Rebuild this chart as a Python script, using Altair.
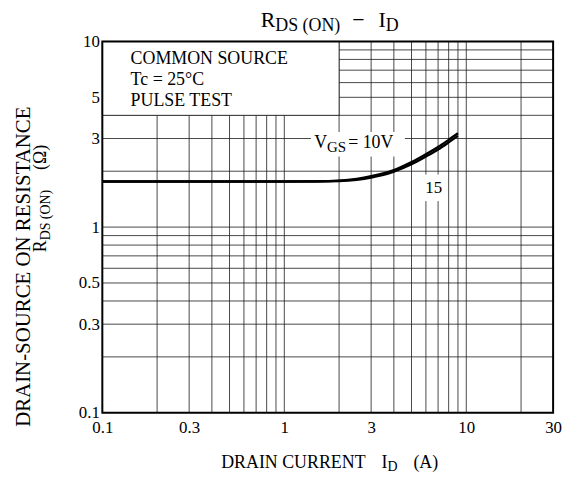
import altair as alt
import pandas as pd

# ---------------- data ----------------
drain_current = [0.1, 0.5, 1.0, 1.5, 2.0, 2.5, 3.0, 4.0, 5.0, 6.0, 7.0, 8.0, 9.0]
rds_vgs10 = [1.76, 1.76, 1.76, 1.765, 1.78, 1.82, 1.88, 2.03, 2.24, 2.47, 2.70, 2.95, 3.20]
rds_vgs15 = [1.76, 1.76, 1.76, 1.76, 1.77, 1.80, 1.85, 1.99, 2.18, 2.40, 2.62, 2.86, 3.10]

x_tick_labels = [0.1, 0.3, 1, 3, 10, 30]
y_tick_labels = [0.1, 0.3, 0.5, 1, 3, 5, 10]
x_grid = [0.2, 0.3, 0.4, 0.5, 0.6, 0.7, 0.8, 0.9, 1, 2, 3, 4, 5, 6, 7, 8, 9, 10, 20]
y_grid = [0.2, 0.3, 0.4, 0.5, 0.6, 0.7, 0.8, 0.9, 1, 2, 3, 4, 5, 6, 7, 8, 9]

condition_lines = ["COMMON SOURCE", "Tc = 25°C", "PULSE TEST"]
condition_y = [7.55, 5.8, 4.5]

FONT = "Liberation Serif"
W, H = 454, 374
NB = "\u00a0"

# approximate Times-like glyph widths (per 1000 em) for laying out rich text
GW = {" ": 250, NB: 250, "(": 333, ")": 333, "-": 333, "−": 564, ".": 250, "=": 564, "°": 400,
      "A": 722, "C": 667, "D": 722, "E": 611, "G": 722, "I": 333, "L": 611, "M": 889,
      "N": 722, "O": 722, "P": 556, "R": 667, "S": 556, "T": 611, "U": 722, "V": 722,
      "Ω": 768, "c": 444}


def tw(s, size):
    return sum(GW.get(ch, 500) for ch in s) / 1000.0 * size


def pw(p):
    # width of a piece: (text, size, shift) or a numeric gap in px
    return p if isinstance(p, (int, float)) else tw(p[0], p[1])


xs = alt.Scale(type="log", domain=[0.1, 30], nice=False)
ys = alt.Scale(type="log", domain=[0.1, 10], nice=False)

xaxis = alt.Axis(values=x_tick_labels, labelExpr="format(datum.value, '~g')", grid=False,
                 ticks=False, domain=False, labelFont=FONT, labelFontSize=17,
                 labelColor="black", labelPadding=7, title=None, labelFlush=False,
                 labelOverlap=False)
yaxis = alt.Axis(values=y_tick_labels, labelExpr="format(datum.value, '~g')", grid=False,
                 ticks=False, domain=False, labelFont=FONT, labelFontSize=17,
                 labelColor="black", labelPadding=3, title=None, labelFlush=False,
                 labelOverlap=False)

one = pd.DataFrame({"a": [0]})

layers = []

# grid lines
layers.append(alt.Chart(pd.DataFrame({"gx": x_grid})).mark_rule(color="#1a1a1a", strokeWidth=0.8)
              .encode(x=alt.X("gx:Q", scale=xs, axis=xaxis)))
layers.append(alt.Chart(pd.DataFrame({"gy": y_grid})).mark_rule(color="#1a1a1a", strokeWidth=0.8)
              .encode(y=alt.Y("gy:Q", scale=ys, axis=yaxis)))

# white condition box
box = pd.DataFrame({"x1": [0.1], "x2": [2.0], "y1": [4.0], "y2": [10.0]})
layers.append(alt.Chart(box).mark_rect(fill="white", stroke="#1a1a1a", strokeWidth=0.8)
              .encode(x=alt.X("x1:Q", scale=xs, axis=xaxis), x2="x2:Q",
                      y=alt.Y("y1:Q", scale=ys, axis=yaxis), y2="y2:Q"))

# white backgrounds behind curve labels
bgs = pd.DataFrame({"x1": [1.40, 5.65], "x2": [4.6, 7.4], "y1": [2.40, 1.38], "y2": [3.25, 1.92]})
layers.append(alt.Chart(bgs).mark_rect(fill="white")
              .encode(x=alt.X("x1:Q", scale=xs, axis=xaxis), x2="x2:Q",
                      y=alt.Y("y1:Q", scale=ys, axis=yaxis), y2="y2:Q"))

# curves
curves = pd.DataFrame({
    "id": drain_current * 2,
    "rds": rds_vgs10 + rds_vgs15,
    "vgs": ["10"] * len(drain_current) + ["15"] * len(drain_current),
})
layers.append(alt.Chart(curves).mark_line(color="black", strokeWidth=2.4, interpolate="monotone")
              .encode(x=alt.X("id:Q", scale=xs, axis=xaxis),
                      y=alt.Y("rds:Q", scale=ys, axis=yaxis),
                      detail="vgs:N"))

# condition text
cond = pd.DataFrame({"t": condition_lines, "x": [0.143] * 3, "y": condition_y})
layers.append(alt.Chart(cond).mark_text(font=FONT, fontSize=18, align="left", baseline="alphabetic",
                                        color="black")
              .encode(x=alt.X("x:Q", scale=xs, axis=xaxis), y=alt.Y("y:Q", scale=ys, axis=yaxis),
                      text="t:N"))


def rich_data(pieces, xv, yv):
    out = []
    off = 0.0
    df = pd.DataFrame({"x": [xv], "y": [yv]})
    for p in pieces:
        if not isinstance(p, (int, float)):
            t, s, sh = p
            out.append(alt.Chart(df).mark_text(text=t, font=FONT, fontSize=s, align="left",
                                               baseline="alphabetic", color="black", dx=off, dy=sh)
                       .encode(x=alt.X("x:Q", scale=xs, axis=xaxis),
                               y=alt.Y("y:Q", scale=ys, axis=yaxis)))
        off += pw(p)
    return out


def rich_px(pieces, x0, y0, angle=0):
    out = []
    total = sum(pw(p) for p in pieces)
    off = -total / 2
    for p in pieces:
        if not isinstance(p, (int, float)):
            t, s, sh = p
            if angle == 0:
                px, py = x0 + off, y0 + sh
            else:
                px, py = x0 + sh, y0 - off
            out.append(alt.Chart(one).mark_text(text=t, font=FONT, fontSize=s, align="left",
                                                baseline="alphabetic", angle=angle, color="black")
                       .encode(x=alt.value(px), y=alt.value(py)))
        off += pw(p)
    return out


# curve labels
layers += rich_data([("V", 18, 0), ("GS", 15, 4), 2, ("=" + NB + "10V", 18, 0)], 1.46, 2.66)
layers += rich_data([("15", 17, 0)], 5.95, 1.52)

# title
layers += rich_px([("R", 22, 0), ("DS" + NB + "(ON)", 18, 4), 12, ("−", 22, 0), 14,
                   ("I", 22, 0), ("D", 18, 4)], W / 2 + 2, -15)
# x axis title
layers += rich_px([("DRAIN CURRENT", 18, 0), 16, ("I", 18, 0), ("D", 14, 3), 16, ("(A)", 18, 0)],
                  W / 2 + 2, 430)
# y axis titles
layers += rich_px([("DRAIN-SOURCE ON RESISTANCE", 21, 0)], -73, 226, angle=270)
layers += rich_px([("R", 18, 0), ("DS" + NB + "(ON)", 14, 4), 20, ("(Ω)", 18, 0)],
                  -57, 158, angle=270)

# frame
frame = pd.DataFrame({"x1": [0.1], "x2": [30], "y1": [0.1], "y2": [10]})
layers.append(alt.Chart(frame).mark_rect(fill=None, stroke="black", strokeWidth=2)
              .encode(x=alt.X("x1:Q", scale=xs, axis=xaxis), x2="x2:Q",
                      y=alt.Y("y1:Q", scale=ys, axis=yaxis), y2="y2:Q"))

chart = alt.layer(*layers).properties(
    width=W, height=H,
    padding={"left": 95, "top": 32, "right": 15, "bottom": 60},
    autosize=alt.AutoSizeParams(type="none"),
    background="white",
).configure_view(stroke=None)

chart.save("out.html", embed_options={"renderer": "svg", "actions": False})
